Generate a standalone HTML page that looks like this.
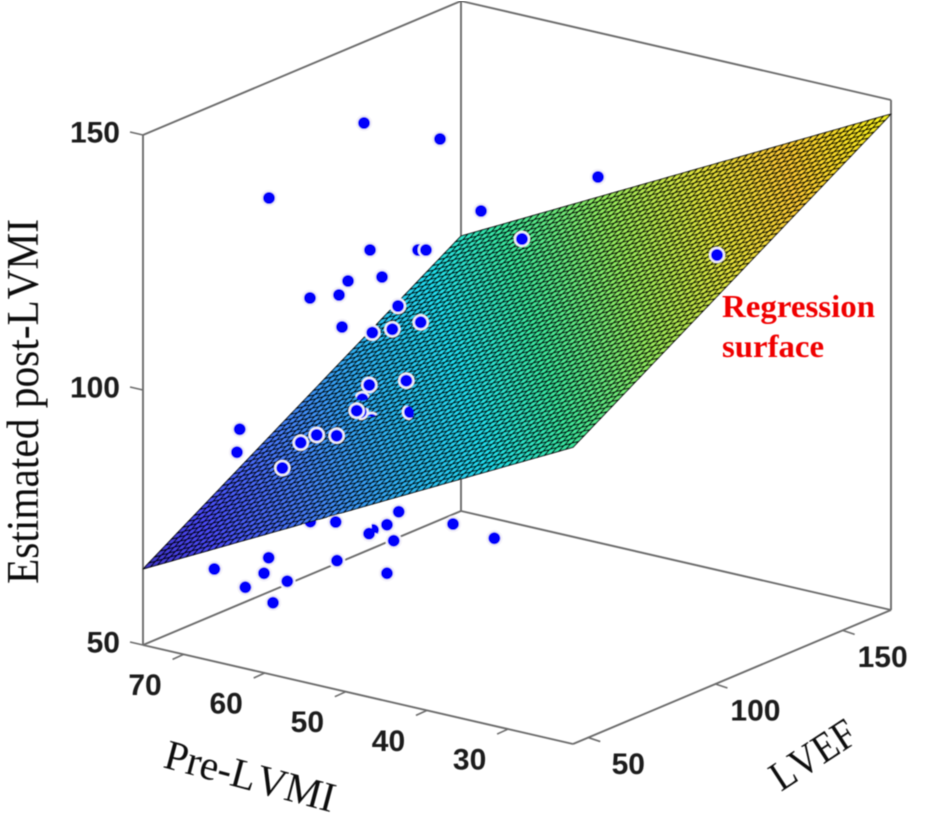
<!DOCTYPE html>
<html lang="en">
<head>
<meta charset="utf-8">
<title>Regression surface</title>
<style>
html,body{margin:0;padding:0;background:#fff;}
svg{display:block;}
.tick{font-family:"Liberation Sans",Arial,sans-serif;font-weight:700;font-size:30px;fill:#1c1c1c;}
.title{font-family:"Liberation Serif","Times New Roman",serif;fill:#111;}
</style>
</head>
<body>
<svg id="chart" xmlns="http://www.w3.org/2000/svg" width="925" height="823" viewBox="0 0 925 823">
  <defs>
    <filter id="soft" x="0" y="0" width="100%" height="100%"><feGaussianBlur stdDeviation="0.4"/></filter>
  </defs>
  <g id="root" filter="url(#soft)">
    <g id="box"></g>
    <g id="back"></g>
    <g id="mesh"></g>
    <g id="partial"></g>
    <g id="front"></g>
    <g id="labels"></g>
    <text class="title" font-size="45" transform="translate(38,584) rotate(-90)" textLength="365" lengthAdjust="spacingAndGlyphs">Estimated post-L<tspan dx="5">VMI</tspan></text>
    <text class="title" font-size="42" transform="translate(162,767) rotate(15)" textLength="175" lengthAdjust="spacingAndGlyphs">Pre-L<tspan dx="5">VMI</tspan></text>
    <text class="title" font-size="42" transform="translate(781,792) rotate(-33)" textLength="94" lengthAdjust="spacingAndGlyphs">L<tspan dx="4">VEF</tspan></text>
    <text font-family="'Liberation Serif',serif" font-weight="700" font-size="32" fill="#f00000" x="722" y="317" textLength="153" lengthAdjust="spacingAndGlyphs">Regression</text>
    <text font-family="'Liberation Serif',serif" font-weight="700" font-size="32" fill="#f00000" x="722" y="357" textLength="102" lengthAdjust="spacingAndGlyphs">surface</text>
  </g>
</svg>
<script>
// ---- axis data ----
const preLimits = [75, 22];
const lvefLimits = [44, 169];
const postLimits = [50, 150];
const preTicks = [70, 60, 50, 40, 30];
const lvefTicks = [50, 100, 150];
const postTicks = [50, 100, 150];

// ---- regression surface: fitted post-LVMI at the corners, rows by LVEF, columns by Pre-LVMI ----
const surfacePostLowLvef = [64.9, 108.2];
const surfacePostHighLvef = [103.9, 147.25];
const meshCellsPre = 60;
const meshCellsLvef = 56;

// ---- colour map keyed on post-LVMI ----
const colorPost = [62, 72, 82, 92, 100, 108, 118, 128, 136, 142, 148];
const colorRed = [60, 75, 70, 45, 35, 60, 150, 230, 255, 250, 250];
const colorGreen = [45, 75, 130, 185, 225, 235, 240, 230, 205, 225, 250];
const colorBlue = [180, 250, 250, 245, 240, 160, 95, 60, 55, 40, 30];

// ---- scatter points ----
const pointPre = [54.03,44.66,65.74,25.19,39.61,53.29,47.37,46.39,56.00,51.81,60.69,57.11,49.84,56.74,53.01,50.54,47.04,53.38,48.82,54.93,57.40,59.86,61.83,64.10,69.35,69.69,34.56,28.08,
  60.65,57.52,53.41,51.20,49.75,50.37,57.36,51.20,43.06,37.97,65.78,66.36,72.48,68.66,63.49,65.25];
const pointLvef = [64,64,64,64,64,64,64,64,64,64,64,64,64,64,64,64,64,64,64,64,64,64,64,64,64,64,64,120,
  64,64,64,64,64,64,64,64,64,64,64,64,64,64,64,64];
const pointPost = [155.83,156.12,136.84,155.81,143.86,131.20,133.37,133.73,124.13,126.45,119.08,120.98,121.48,114.84,115.09,116.66,119.31,104.70,107.21,99.09,93.28,92.52,90.29,84.49,90.16,85.53,140.22,127.68,
  75.23,76.32,75.53,78.10,81.18,75.27,68.79,68.57,81.22,80.28,66.29,63.02,61.62,59.43,62.51,57.66];
const pointInFront = [1,1,1,1,1,1,1,1,1,1,1,1,1,1,1,1,1,1,1,1,1,1,1,1,1,1,1,1,
  0,0,0,0,0,0,0,0,0,0,0,0,0,0,0,0];

// points that poke only partly through the surface
const partialPre = [54.24,54.44,53.08,48.36,52.92];
const partialLvef = [64,64,64,64,64];
const partialPost = [101.58,99.02,97.94,101.24,76.43];

// ---- projection scales ----
const origin = {x:143, y:645};
const preVec = {x:430, y:99};
const lvefVec = {x:318, y:-134};
const postScale = -510;

function preFrac(p){ return (p - preLimits[0]) / (preLimits[1] - preLimits[0]); }
function lvefFrac(l){ return (l - lvefLimits[0]) / (lvefLimits[1] - lvefLimits[0]); }
function postFrac(z){ return (z - postLimits[0]) / (postLimits[1] - postLimits[0]); }
function project(pre, lvef, post){
  const a = preFrac(pre), b = lvefFrac(lvef), c = postFrac(post);
  return {
    x: origin.x + a*preVec.x + b*lvefVec.x,
    y: origin.y + a*preVec.y + b*lvefVec.y + c*postScale
  };
}
function surfacePost(a, b){
  const low = surfacePostLowLvef[0] + a*(surfacePostLowLvef[1]-surfacePostLowLvef[0]);
  const high = surfacePostHighLvef[0] + a*(surfacePostHighLvef[1]-surfacePostHighLvef[0]);
  return low + b*(high-low);
}
function colorFor(z){
  let i = 0;
  while (i < colorPost.length-2 && z > colorPost[i+1]) i++;
  let t = (z-colorPost[i])/(colorPost[i+1]-colorPost[i]);
  t = Math.max(0, Math.min(1, t));
  const mix = arr => Math.round(arr[i] + t*(arr[i+1]-arr[i]));
  return 'rgb(' + mix(colorRed) + ',' + mix(colorGreen) + ',' + mix(colorBlue) + ')';
}
const NS = 'http://www.w3.org/2000/svg';
function make(tag, parent, attrs){
  const el = document.createElementNS(NS, tag);
  for (const k in attrs) el.setAttribute(k, attrs[k]);
  parent.appendChild(el);
  return el;
}

// ---- box ----
const box = document.getElementById('box');
const P0 = preLimits[0], P1 = preLimits[1], L0 = lvefLimits[0], L1 = lvefLimits[1], Z0 = postLimits[0], Z1 = postLimits[1];
const edges = [
  [[P0,L0,Z0],[P1,L0,Z0]], [[P1,L0,Z0],[P1,L1,Z0]], [[P1,L1,Z0],[P0,L1,Z0]], [[P0,L1,Z0],[P0,L0,Z0]],
  [[P0,L0,Z0],[P0,L0,Z1]], [[P0,L1,Z0],[P0,L1,Z1]], [[P1,L1,Z0],[P1,L1,Z1]],
  [[P0,L0,Z1],[P0,L1,Z1]], [[P0,L1,Z1],[P1,L1,Z1]]
];
edges.forEach(function(e){
  const s = project(e[0][0],e[0][1],e[0][2]), t = project(e[1][0],e[1][1],e[1][2]);
  const line = make('line', box, {x1:s.x,y1:s.y,x2:t.x,y2:t.y,stroke:'#6c6c6c','stroke-width':1.9});
  
  
});
const labels = document.getElementById('labels');
function tick(p, dx, dy, name){
  const line = make('line', box, {x1:p.x,y1:p.y,x2:p.x+dx,y2:p.y+dy,stroke:'#6c6c6c','stroke-width':1.6});
  
  
}
function tickLabel(x, y, text, anchor, name){
  const t = make('text', labels, {x:x,y:y,'class':'tick','text-anchor':anchor,'dominant-baseline':'central'});
  t.textContent = text;
  
  
}
preTicks.forEach(function(v){
  const p = project(v, L0, Z0);
  tick(p, -11, 5, 'pre-lvmi-tick');
  tickLabel(p.x-38.5, p.y+31, String(v), 'middle', 'pre-lvmi-tick-label');
});
lvefTicks.forEach(function(v){
  const p = project(P1, v, Z0);
  tick(p, 12, 4, 'lvef-tick');
  tickLabel(p.x+40, p.y+27, String(v), 'middle', 'lvef-tick-label');
});
postTicks.forEach(function(v){
  const p = project(P0, L0, v);
  tick(p, -13, -3, 'post-lvmi-tick');
  tickLabel(120, p.y-2, String(v), 'end', 'post-lvmi-tick-label');
});

// ---- surface ----
const mesh = document.getElementById('mesh');
for (let i = 0; i < meshCellsPre; i++){
  for (let j = 0; j < meshCellsLvef; j++){
    const a0 = i/meshCellsPre, a1 = (i+1)/meshCellsPre, b0 = j/meshCellsLvef, b1 = (j+1)/meshCellsLvef;
    const pt = function(a,b){
      const p = project(P0+a*(P1-P0), L0+b*(L1-L0), surfacePost(a,b));
      return p.x.toFixed(2)+','+p.y.toFixed(2);
    };
    const poly = make('polygon', mesh, {
      points: pt(a0,b0)+' '+pt(a1,b0)+' '+pt(a1,b1)+' '+pt(a0,b1),
      fill: colorFor(surfacePost((a0+a1)/2,(b0+b1)/2)),
      stroke: '#000', 'stroke-width': 1.2, 'stroke-opacity': 0.92, 'stroke-linejoin':'round'
    });
    
    
  }
}

// ---- points ----
const backG = document.getElementById('back'), frontG = document.getElementById('front'), partialG = document.getElementById('partial');
pointPre.forEach(function(pre, i){
  const p = project(pre, pointLvef[i], pointPost[i]);
  const g = pointInFront[i] ? frontG : backG;
  const c = make('circle', g, {cx:p.x,cy:p.y,r:7.1,fill:'#0000fa',stroke:'#f3f1f8','stroke-width':2.2});
  
  
});
// which way each partly hidden marker pokes out of the surface
const peekX = [0, 4, 0, -3, 5];
const peekY = [-5, 3, -9, 1, -3];
const svgDefs = document.querySelector('defs');
partialPre.forEach(function(pre, i){
  const p = project(pre, partialLvef[i], partialPost[i]);
  const clip = make('clipPath', svgDefs, {id:'peek'+i});
  make('circle', clip, {cx:p.x+peekX[i]*1.2,cy:p.y+peekY[i]*1.2,r:7.5});
  const c = make('circle', partialG, {cx:p.x,cy:p.y,r:7.1,fill:'#0000fa',stroke:'#f3f1f8','stroke-width':2.2,'clip-path':'url(#peek'+i+')'});
  
  
});
</script>
</body>
</html>
